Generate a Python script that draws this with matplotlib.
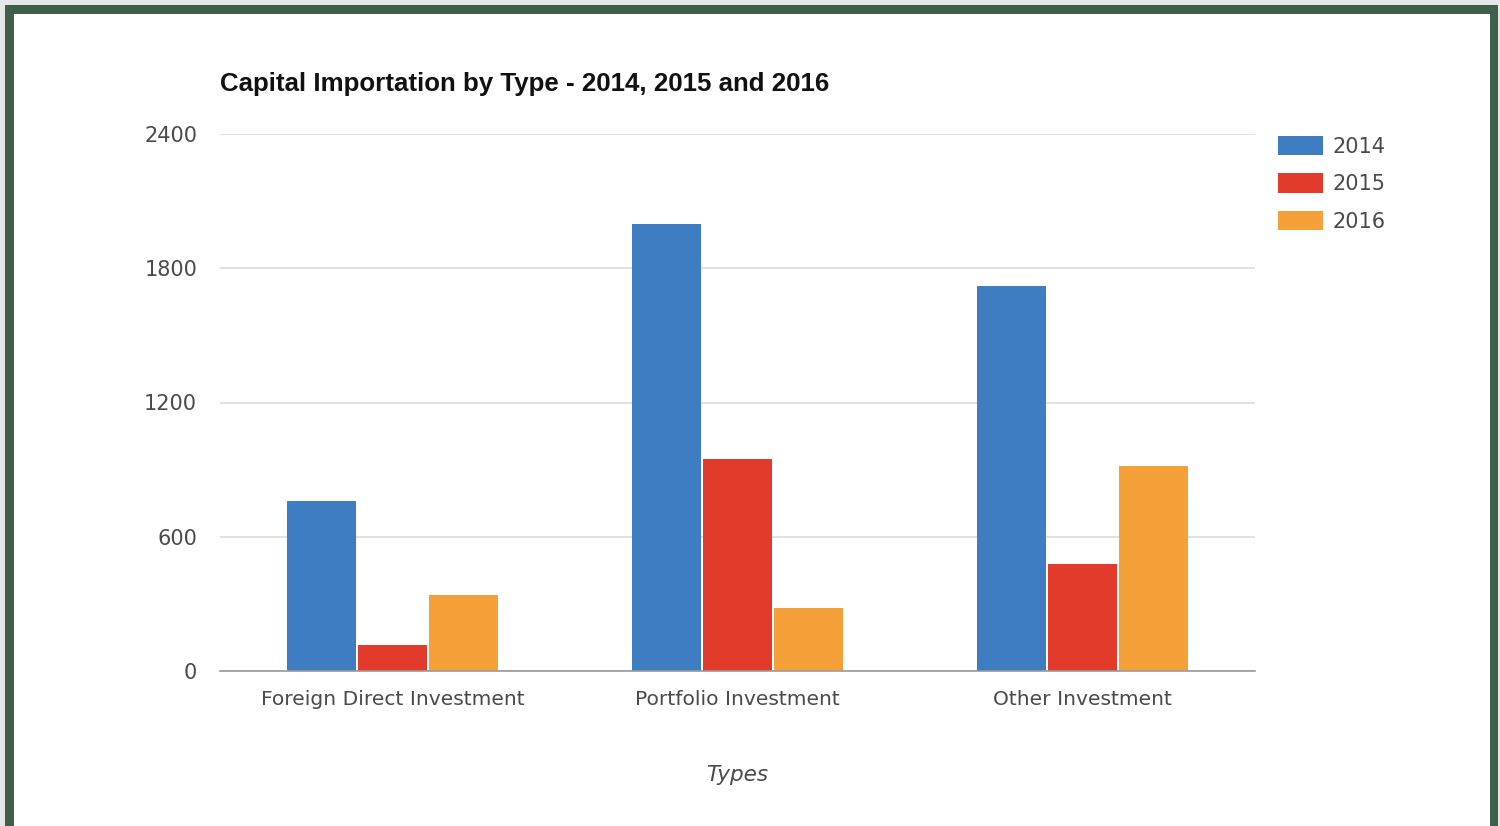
import matplotlib
matplotlib.use("Agg")
import matplotlib.pyplot as plt
import numpy as np
from matplotlib.patches import Rectangle

categories = ["Foreign Direct Investment", "Portfolio Investment", "Other Investment"]
years = ["2014", "2015", "2016"]
values_2014 = [760, 1998, 1720]
values_2015 = [117, 947, 478]
values_2016 = [340, 282, 916]
yticks = [0, 600, 1200, 1800, 2400]
colors = ["#3f7dc2", "#e33b2b", "#f5a039"]

W, H = 1500, 826
fig = plt.figure(figsize=(W / 100, H / 100), dpi=100)
fig.patch.set_facecolor("#e6e8e8")
fig.patches.append(Rectangle((5 / W, -0.1), (1498 - 5) / W, (H - 5) / H + 0.1,
                             transform=fig.transFigure, facecolor="#3f5f4a",
                             edgecolor="none", zorder=-10))
fig.patches.append(Rectangle((14 / W, -0.1), (1490 - 14) / W, (H - 14) / H + 0.1,
                             transform=fig.transFigure, facecolor="white",
                             edgecolor="none", zorder=-9))

ax = fig.add_axes([220 / W, 1 - 671 / H, (1255 - 220) / W, (671 - 134) / H])
ax.set_facecolor("none")

x = np.arange(len(categories))
bw = 0.205
series = [values_2014, values_2015, values_2016]
for i, (vals, c, lab) in enumerate(zip(series, colors, years)):
    ax.bar(x + (i - 1) * bw, vals, width=bw * 0.98, color=c, label=lab, zorder=3)

ax.set_xlim(-0.5, 2.5)
ax.set_ylim(0, 2400)
ax.set_yticks(yticks)
ax.set_yticklabels([str(v) for v in yticks])
ax.set_xticks(x)
ax.set_xticklabels(categories)
for s in ["top", "right", "left"]:
    ax.spines[s].set_visible(False)
ax.spines["bottom"].set_color("#9a9a9a")
ax.spines["bottom"].set_linewidth(1.2)
ax.spines["bottom"].set_zorder(4)
ax.grid(axis="y", color="#dcdcdc", linewidth=1.2, zorder=0)
ax.tick_params(axis="both", length=0, labelcolor="#4a4a4a")
ax.tick_params(axis="y", pad=16.5, labelsize=15)
ax.tick_params(axis="x", pad=14, labelsize=14.6)
for t in ax.get_xticklabels() + ax.get_yticklabels():
    t.set_fontfamily("DejaVu Sans")

fig.text(220 / W, 1 - 84 / H, "Capital Importation by Type - 2014, 2015 and 2016",
         fontsize=18.6, fontweight="bold", family="Liberation Sans",
         ha="left", va="center", color="#111111")
fig.text(737 / W, 1 - 775 / H, "Types", fontsize=15.5, style="italic",
         family="DejaVu Sans", ha="center", va="center", color="#4a4a4a")

leg = fig.legend(loc="upper left", bbox_to_anchor=(1278 / W, 1 - 136 / H),
                 frameon=False, fontsize=15, handlelength=2.15, handleheight=1.05,
                 labelspacing=0.8, handletextpad=0.45, borderpad=0, borderaxespad=0)
for t in leg.get_texts():
    t.set_color("#4a4a4a")

fig.savefig("out.png", dpi=100, facecolor=fig.get_facecolor())
